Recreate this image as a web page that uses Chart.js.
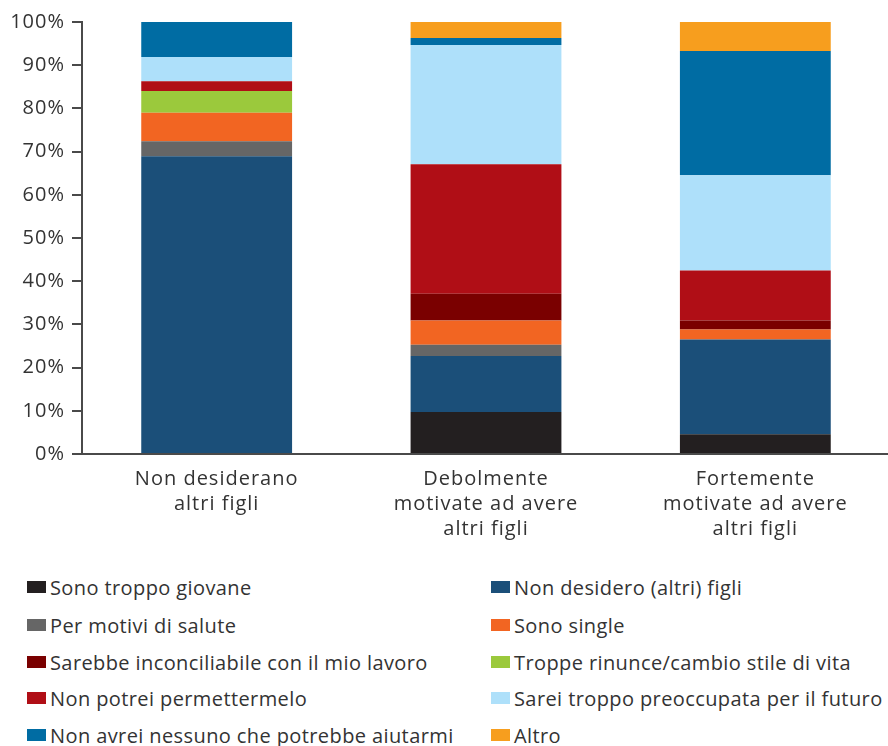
<!DOCTYPE html>
<html>
<head>
<meta charset="utf-8">
<script src="https://cdn.jsdelivr.net/npm/chart.js@4.4.0/dist/chart.umd.min.js"></script>
<style>
  html, body { margin: 0; padding: 0; background: #ffffff; }
  #wrap { position: relative; width: 888px; height: 746px; overflow: hidden; }
  #chartBox { position: absolute; left: 0; top: 0; width: 890px; height: 560px; }
  #legend { position: absolute; left: 0; top: 570px; width: 888px; height: 176px;
            font-family: "Open Sans", sans-serif; font-size: 20px; letter-spacing: 0.4px; color: #333333; }
  .li { position: absolute; display: flex; align-items: center; white-space: nowrap; height: 26px; }
  .sw { width: 19px; height: 12px; margin-right: 4px; flex: none; }
</style>
</head>
<body>
<div id="wrap">
  <div id="chartBox"><canvas id="c"></canvas></div>
  <div id="legend"></div>
</div>
<script>
const categories = [
  ["Non desiderano", "altri figli"],
  ["Debolmente", "motivate ad avere", "altri figli"],
  ["Fortemente", "motivate ad avere", "altri figli"]
];
const yTicks = [0, 10, 20, 30, 40, 50, 60, 70, 80, 90, 100];

const seriesNames = [
  "Sono troppo giovane",
  "Non desidero (altri) figli",
  "Per motivi di salute",
  "Sono single",
  "Sarebbe inconciliabile con il mio lavoro",
  "Troppe rinunce/cambio stile di vita",
  "Non potrei permettermelo",
  "Sarei troppo preoccupata per il futuro",
  "Non avrei nessuno che potrebbe aiutarmi",
  "Altro"
];
const sonoTroppoGiovane   = [0.0, 9.7, 4.6];
const nonDesideroFigli    = [68.9, 13.0, 21.9];
const motiviSalute        = [3.5, 2.6, 0.0];
const sonoSingle          = [6.6, 5.6, 2.3];
const inconciliabile      = [0.0, 6.2, 2.1];
const troppeRinunce       = [5.0, 0.0, 0.0];
const nonPotreiPermetter  = [2.3, 30.0, 11.6];
const sareiPreoccupata    = [5.6, 27.6, 22.0];
const nonAvreiNessuno     = [8.1, 1.6, 28.8];
const altro               = [0.0, 3.7, 6.7];

const seriesValues = [sonoTroppoGiovane, nonDesideroFigli, motiviSalute, sonoSingle,
  inconciliabile, troppeRinunce, nonPotreiPermetter, sareiPreoccupata, nonAvreiNessuno, altro];
const seriesColors = ["#231f20", "#1b4f79", "#666666", "#f26522", "#7a0000",
  "#9bc93c", "#b00e16", "#aee0fa", "#006ca3", "#f79e1e"];

const FONT = '"Open Sans", sans-serif';
const TEXT = '#333333';
const AXIS = '#4a4a4a';

const datasets = seriesNames.map((n, i) => ({
  label: n,
  data: seriesValues[i],
  backgroundColor: seriesColors[i],
  borderWidth: 0,
  barPercentage: 0.56,
  categoryPercentage: 1.0
}));

const spacingPlugin = {
  id: 'spacing',
  beforeLayout(chart) { chart.ctx.letterSpacing = '1px'; },
  beforeDraw(chart) { chart.ctx.letterSpacing = '1px'; }
};

const chart = new Chart(document.getElementById('c'), {
  type: 'bar',
  data: { labels: categories, datasets },
  plugins: [spacingPlugin],
  options: {
    responsive: true,
    maintainAspectRatio: false,
    animation: false,
    layout: { padding: { top: 22, right: 0, left: 0, bottom: 0 } },
    plugins: { legend: { display: false }, tooltip: { enabled: false } },
    scales: {
      x: {
        stacked: true,
        grid: { display: false, drawTicks: false },
        border: { display: true, color: AXIS, width: 2 },
        ticks: { color: TEXT, font: { family: FONT, size: 20, lineHeight: 1.24 }, padding: 13, maxRotation: 0 },
        afterFit: (s) => { s.height = 106; }
      },
      y: {
        stacked: true,
        min: 0, max: 100,
        afterBuildTicks: (axis) => { axis.ticks = yTicks.map(v => ({ value: v })); },
        grid: { drawOnChartArea: false, drawTicks: true, tickLength: 10, color: AXIS, lineWidth: 2 },
        border: { display: true, color: AXIS, width: 2 },
        ticks: { color: TEXT, font: { family: FONT, size: 20 }, padding: 7,
                 callback: v => v + '%' },
        afterFit: (s) => { s.width = 82; }
      }
    }
  }
});

// HTML legend in two columns, built from datasets
const leg = document.getElementById('legend');
const colX = [27, 491];
const rowY = [4, 42, 79, 115, 152];
chart.data.datasets.forEach((ds, i) => {
  const col = i % 2, row = Math.floor(i / 2);
  const el = document.createElement('div');
  el.className = 'li';
  el.style.left = colX[col] + 'px';
  el.style.top = rowY[row] + 'px';
  const sw = document.createElement('span');
  sw.className = 'sw';
  sw.style.background = ds.backgroundColor;
  const tx = document.createElement('span');
  tx.textContent = ds.label;
  el.appendChild(sw); el.appendChild(tx);
  leg.appendChild(el);
});
</script>
</body>
</html>
